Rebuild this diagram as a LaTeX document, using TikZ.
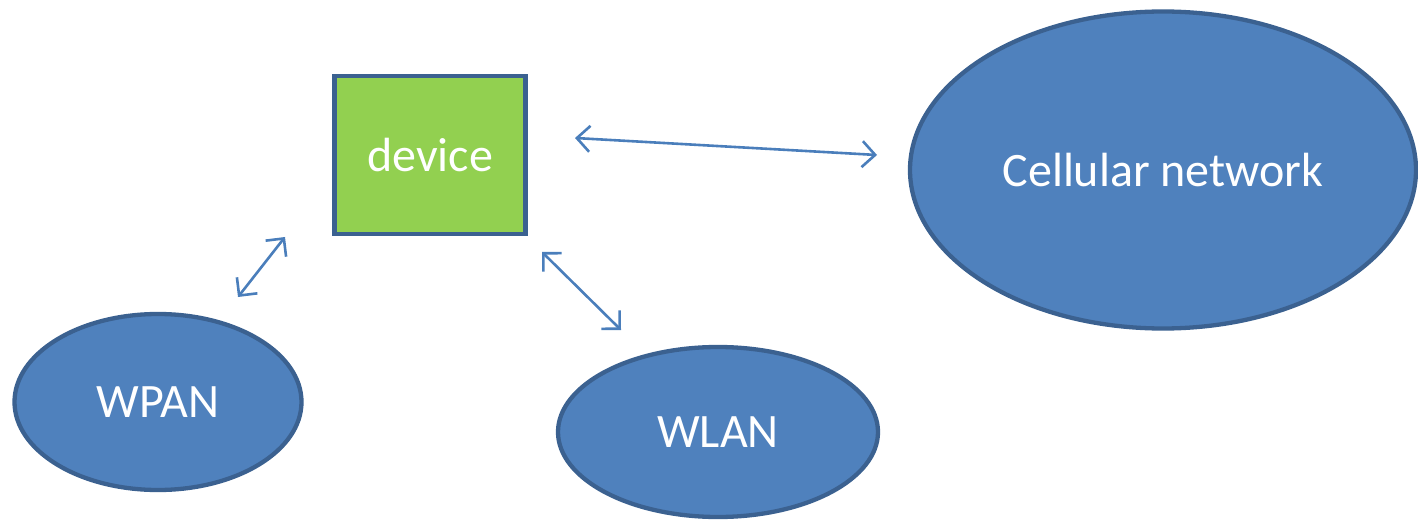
\documentclass[tikz,border=0pt]{standalone}
\usepackage{fontspec}
\setmainfont{Carlito}
\usetikzlibrary{arrows.meta,shapes.geometric}
\definecolor{netfill}{HTML}{4F81BD}
\definecolor{netdraw}{HTML}{3B6190}
\definecolor{devfill}{HTML}{92D050}
\definecolor{arr}{HTML}{4A7EBB}
\tikzset{
  net/.style={ellipse, fill=netfill, draw=netdraw, line width=4.3pt, inner sep=0pt, text=white, font=\fontsize{48}{54}\selectfont},
  devbox/.style={rectangle, fill=devfill, draw=netdraw, line width=4.8pt, inner sep=0pt, text=white, font=\fontsize{48}{54}\selectfont},
  link/.style={draw=arr, line width=2.6pt, {Straight Barb[length=13pt,width=26pt,line width=2.6pt]}-{Straight Barb[length=13pt,width=26pt,line width=2.6pt]}}
}
\begin{document}
\begin{tikzpicture}[x=1pt,y=1pt]
\useasboundingbox (0,0) rectangle (1418,520);
\node[devbox, minimum width=191pt, minimum height=158pt] (dev) at (430,365) {device};
\node[net, minimum width=506pt, minimum height=317pt] (cell) at (1163,350) {Cellular network};
\node[net, minimum width=287pt, minimum height=176pt] (wpan) at (158,118) {WPAN};
\node[net, minimum width=320pt, minimum height=170pt] (wlan) at (718,88) {WLAN};
\coordinate (a1) at (575,382);
\coordinate (a2) at (877,365);
\coordinate (b1) at (285,283);
\coordinate (b2) at (238,223);
\coordinate (c1) at (542,268);
\coordinate (c2) at (621,190);
\draw[link] (a1) -- (a2);
\draw[link] (b1) -- (b2);
\draw[link] (c1) -- (c2);
\end{tikzpicture}
\end{document}
